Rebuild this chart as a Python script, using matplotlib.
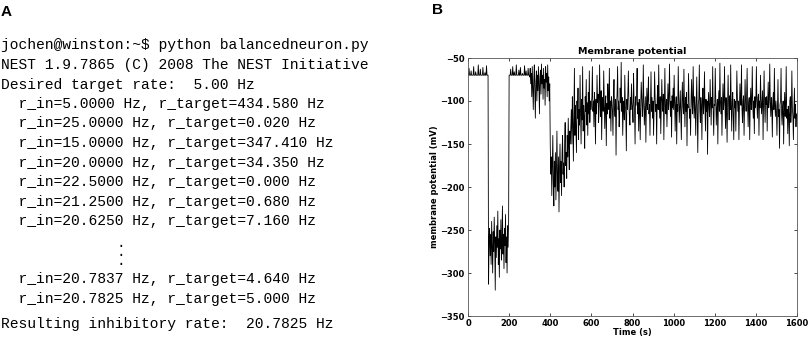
import numpy as np
import matplotlib
matplotlib.use("Agg")
import matplotlib.pyplot as plt

# --- panel A: terminal output -------------------------------------------
TERMINAL_LINES = [
    "jochen@winston:~$ python balancedneuron.py",
    "NEST 1.9.7865 (C) 2008 The NEST Initiative",
    "Desired target rate:  5.00 Hz",
    "  r_in=5.0000 Hz, r_target=434.580 Hz",
    "  r_in=25.0000 Hz, r_target=0.020 Hz",
    "  r_in=15.0000 Hz, r_target=347.410 Hz",
    "  r_in=20.0000 Hz, r_target=34.350 Hz",
    "  r_in=22.5000 Hz, r_target=0.000 Hz",
    "  r_in=21.2500 Hz, r_target=0.680 Hz",
    "  r_in=20.6250 Hz, r_target=7.160 Hz",
    None,
    None,
    "  r_in=20.7837 Hz, r_target=4.640 Hz",
    "  r_in=20.7825 Hz, r_target=5.000 Hz",
]
RESULT_LINE = "Resulting inhibitory rate:  20.7825 Hz"

# --- panel B: membrane potential trace, one list per 100 s, 2.5 s apart --
SEG_STEP = 2.5
v_0000 = [-70, -70, -62, -70, -70, -70, -65, -70, -70, -70, -70, -60, -70, -70, -70, -66, -70, -70, -70, -70,
          -58, -70, -70, -70, -63, -70, -70, -70, -70, -61, -70, -70, -70, -67, -70, -70, -59, -70, -70, -70]
v_0100 = [-313, -262, -248, -280, -255, -290, -240, -268, -300, -252, -275, -235, -265, -320, -258, -282, -245, -270, -228, -290,
          -260, -305, -250, -272, -238, -285, -262, -222, -278, -255, -295, -248, -268, -232, -288, -258, -300, -245, -270, -240]
v_0200 = [-70, -70, -70, -63, -70, -70, -70, -60, -70, -70, -66, -70, -70, -70, -58, -70, -70, -70, -70, -64,
          -70, -70, -61, -70, -70, -70, -68, -70, -70, -70, -59, -70, -70, -65, -70, -70, -70, -62, -70, -70]
v_0300 = [-72, -62, -80, -68, -95, -60, -85, -110, -75, -58, -90, -120, -78, -65, -100, -70, -88, -60, -82, -115,
          -72, -64, -92, -57, -80, -70, -98, -62, -85, -75, -105, -60, -78, -68, -95, -58, -88, -72, -100, -80]
v_0400 = [-150, -185, -165, -210, -175, -140, -195, -222, -170, -200, -160, -215, -180, -135, -190, -205, -165, -229, -178, -150,
          -195, -170, -210, -160, -140, -185, -172, -200, -150, -125, -175, -160, -190, -140, -165, -120, -155, -180, -135, -150]
v_0500 = [-130, -110, -150, -95, -125, -170, -115, -62, -140, -105, -130, -160, -100, -120, -85, -145, -110, -128, -70, -115,
          -150, -98, -122, -60, -135, -105, -118, -155, -95, -112, -75, -128, -102, -140, -90, -115, -65, -125, -100, -110]
v_0600 = [-105, -95, -60, -112, -100, -130, -90, -108, -150, -98, -115, -70, -102, -92, -125, -110, -58, -100, -118, -88,
          -145, -105, -96, -112, -65, -100, -132, -108, -94, -152, -103, -115, -80, -98, -110, -62, -120, -100, -135, -95]
v_0700 = [-100, -112, -140, -95, -75, -108, -118, -98, -163, -104, -92, -60, -110, -100, -130, -115, -85, -102, -55, -112,
          -96, -140, -108, -100, -122, -70, -105, -115, -158, -98, -110, -90, -65, -104, -118, -128, -96, -110, -80, -102]
v_0800 = [-108, -125, -68, -100, -112, -150, -95, -105, -90, -62, -115, -102, -135, -98, -110, -145, -104, -78, -96, -118,
          -108, -58, -100, -128, -112, -95, -148, -106, -85, -110, -98, -72, -115, -104, -140, -100, -66, -112, -96, -120]
v_0900 = [-100, -140, -108, -66, -96, -112, -104, -150, -98, -82, -110, -58, -102, -120, -95, -138, -106, -75, -100, -112,
          -92, -145, -104, -62, -108, -115, -98, -130, -102, -80, -110, -96, -57, -105, -118, -100, -142, -94, -108, -85]
v_1000 = [-110, -70, -100, -135, -106, -95, -150, -104, -112, -60, -98, -125, -108, -88, -118, -145, -100, -78, -106, -115,
          -63, -102, -130, -96, -112, -90, -152, -104, -108, -68, -100, -120, -110, -140, -96, -75, -105, -115, -60, -100]
v_1100 = [-120, -95, -108, -140, -100, -72, -112, -160, -104, -98, -58, -110, -125, -96, -106, -145, -100, -85, -115, -104,
          -66, -108, -135, -98, -112, -100, -162, -106, -90, -110, -118, -75, -102, -128, -96, -108, -60, -112, -140, -104]
v_1200 = [-105, -62, -100, -128, -108, -98, -150, -104, -88, -112, -56, -100, -115, -96, -140, -106, -80, -110, -100, -60,
          -108, -132, -96, -112, -148, -102, -70, -106, -122, -94, -110, -58, -104, -135, -100, -90, -115, -145, -98, -108]
v_1300 = [-100, -135, -104, -65, -96, -112, -100, -145, -108, -80, -98, -105, -58, -110, -125, -100, -94, -140, -106, -75,
          -100, -112, -92, -62, -108, -130, -102, -96, -145, -104, -85, -110, -98, -60, -106, -120, -100, -138, -95, -108]
v_1400 = [-98, -60, -104, -120, -96, -92, -140, -100, -108, -70, -98, -115, -102, -88, -145, -100, -65, -106, -125, -96,
          -104, -95, -135, -100, -78, -108, -98, -57, -102, -118, -96, -106, -142, -100, -90, -110, -62, -104, -118, -100]
v_1500 = [-112, -140, -106, -75, -118, -110, -155, -104, -100, -62, -115, -128, -108, -100, -150, -112, -90, -118, -104, -60,
          -120, -110, -138, -106, -115, -152, -100, -95, -125, -112, -65, -108, -118, -145, -110, -85, -120, -104, -130, -115]

SEGMENTS = [v_0000, v_0100, v_0200, v_0300, v_0400, v_0500, v_0600, v_0700,
            v_0800, v_0900, v_1000, v_1100, v_1200, v_1300, v_1400, v_1500]

X_TICKS = [0, 200, 400, 600, 800, 1000, 1200, 1400, 1600]
Y_TICKS = [-350, -300, -250, -200, -150, -100, -50]

W, H = 809, 337


def fx(px):
    return px / W


def fy(py):
    return 1 - py / H


def main():
    fig = plt.figure(figsize=(W / 100, H / 100), dpi=100)

    # panel letters
    fig.text(fx(1), fy(12), "A", family="Liberation Sans", weight="bold",
             fontsize=11, va="center", ha="left")
    fig.text(fx(432), fy(10), "B", family="Liberation Sans", weight="bold",
             fontsize=11, va="center", ha="left")

    # terminal text
    mono = dict(family="Liberation Mono", fontsize=10.5, va="center", ha="left")
    y0, dy = 45.5, 19.5
    for i, line in enumerate(TERMINAL_LINES):
        if line is None:
            continue
        fig.text(fx(1), fy(y0 + i * dy), line, **mono)
    # vertical ellipsis between the two blocks
    fig.text(fx(121), fy(252), ".\n.\n.", family="Liberation Mono",
             fontsize=10.5, ha="center", va="center", linespacing=0.55)
    fig.text(fx(1), fy(324), RESULT_LINE, **mono)

    # membrane potential trace
    t = []
    v = []
    for k, seg in enumerate(SEGMENTS):
        t.extend(k * 100 + np.arange(len(seg)) * SEG_STEP)
        v.extend(seg)
    t = np.array(t)
    v = np.array(v)

    ax = fig.add_axes([fx(468), fy(316), (797 - 468) / W, (316 - 58) / H])
    ax.plot(t, v, color="black", linewidth=0.6)
    ax.set_xlim(0, 1600)
    ax.set_ylim(-350, -50)
    ax.set_xticks(X_TICKS)
    ax.set_yticks(Y_TICKS)
    ax.tick_params(direction="in", top=True, right=True, length=2.5,
                   width=0.5, labelsize=6, pad=2.5)
    for lab in ax.get_xticklabels() + ax.get_yticklabels():
        lab.set_fontweight("bold")
    for s in ax.spines.values():
        s.set_linewidth(0.6)
        s.set_color("#555555")
    ax.set_title("Membrane potential", fontsize=6.8, fontweight="bold", pad=3)
    ax.set_xlabel("Time (s)", fontsize=6, fontweight="bold")
    ax.set_ylabel("membrane potential (mV)", fontsize=6, fontweight="bold")
    ax.xaxis.set_label_coords(0.5, -0.045)
    ax.yaxis.set_label_coords(-0.088, 0.5)

    fig.savefig("out.png", dpi=100)


if __name__ == "__main__":
    main()
